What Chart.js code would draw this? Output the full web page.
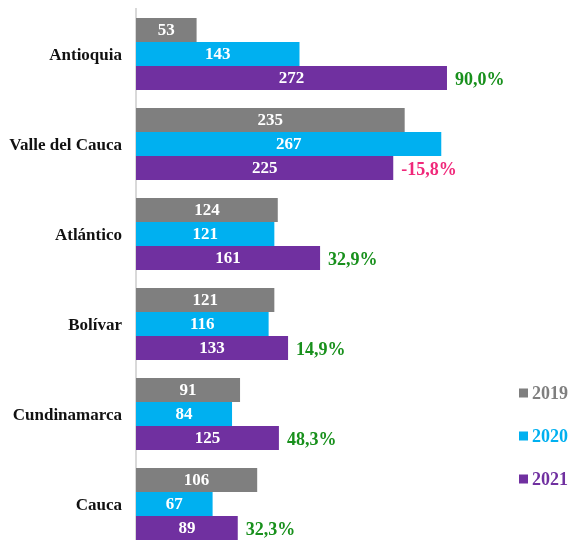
<!DOCTYPE html>
<html>
<head>
<meta charset="utf-8">
<script src="https://cdn.jsdelivr.net/npm/chart.js@4"></script>
<style>
  html, body { margin: 0; padding: 0; overflow: hidden; background: #fff; }
  canvas { display: block; }
</style>
</head>
<body>
<canvas id="chart" width="571" height="558"></canvas>
<script>
const departamentos = ['Antioquia', 'Valle del Cauca', 'Atlántico', 'Bolívar', 'Cundinamarca', 'Cauca'];
const casos2019 = [53, 235, 124, 121, 91, 106];
const casos2020 = [143, 267, 121, 116, 84, 67];
const casos2021 = [272, 225, 161, 133, 125, 89];
const variacion = ['90,0%', '-15,8%', '32,9%', '14,9%', '48,3%', '32,3%'];

const serif = "'Liberation Serif', 'DejaVu Serif', serif";

// white value labels inside bars + change labels after 2021 bars
const barLabels = {
    id: 'barLabels',
    afterDatasetsDraw(chart) {
        const ctx = chart.ctx;
        ctx.save();
        ctx.textBaseline = 'middle';
        chart.data.datasets.forEach((ds, i) => {
            const meta = chart.getDatasetMeta(i);
            meta.data.forEach((bar, j) => {
                ctx.font = 'bold 17px ' + serif;
                ctx.fillStyle = '#ffffff';
                ctx.textAlign = 'center';
                ctx.fillText(ds.data[j], (bar.x + bar.base) / 2, bar.y + 1);
                if (i == 2) {
                    const txt = variacion[j];
                    ctx.font = 'bold 18px ' + serif;
                    ctx.fillStyle = txt.startsWith('-') ? '#f0287a' : '#18901c';
                    ctx.textAlign = 'left';
                    ctx.fillText(txt, bar.x + 8, bar.y + 2);
                }
            });
        });
        ctx.restore();
    }
};

// legend on the right side
const sideLegend = {
    id: 'sideLegend',
    afterDraw(chart) {
        const ctx = chart.ctx;
        ctx.save();
        ctx.textBaseline = 'middle';
        ctx.textAlign = 'left';
        ctx.font = 'bold 18px ' + serif;
        chart.data.datasets.forEach((ds, i) => {
            const y = 393 + i * 43;
            ctx.fillStyle = ds.backgroundColor;
            ctx.fillRect(519, y - 4.5, 9, 9);
            ctx.fillText(ds.label, 532, y + 1);
        });
        ctx.restore();
    }
};

new Chart(document.getElementById('chart'), {
    type: 'bar',
    data: {
        labels: departamentos,
        datasets: [
            { label: '2019', data: casos2019, backgroundColor: '#7f7f7f' },
            { label: '2020', data: casos2020, backgroundColor: '#00b0f0' },
            { label: '2021', data: casos2021, backgroundColor: '#7030a0' }
        ]
    },
    options: {
        indexAxis: 'y',
        responsive: false,
        animation: false,
        datasets: {
            bar: { categoryPercentage: 0.8, barPercentage: 1.0 }
        },
        layout: { padding: { top: 9, bottom: 9, left: 0, right: 92 } },
        plugins: {
            legend: { display: false },
            tooltip: { enabled: false }
        },
        scales: {
            x: { display: false, min: 0, max: 300 },
            y: {
                grid: { color: 'transparent', drawTicks: false },
                border: { color: '#d9d9d9', width: 2 },
                ticks: {
                    padding: 14,
                    labelOffset: 2,
                    color: '#111111',
                    font: { family: serif, size: 17, weight: 'bold' }
                },
                afterFit(scale) {
                    scale.width = 136;
                    scale.paddingTop = 0;
                    scale.paddingBottom = 0;
                }
            }
        }
    },
    plugins: [barLabels, sideLegend]
});
</script>
</body>
</html>
